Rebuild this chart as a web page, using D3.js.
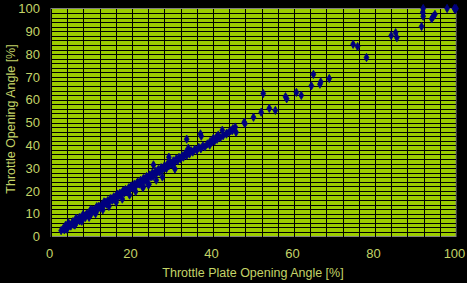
<!DOCTYPE html>
<html>
<head>
<meta charset="utf-8">
<script src="https://cdn.jsdelivr.net/npm/d3@7"></script>
<style>
  html, body { margin: 0; padding: 0; background: #000; }
  svg { display: block; }
  text { font-family: "Liberation Sans Narrow", "Arial Narrow", "Liberation Sans", sans-serif; fill: #c4d468; }
</style>
</head>
<body>
<div id="chart"></div>
<script>
// Throttle plate angle vs throttle opening angle
var plateAngle = [
  2.5, 3.0, 3.3, 3.8, 4.1, 4.5, 4.9, 5.2, 5.6, 6.0, 6.3, 6.7, 7.1, 7.4, 7.8, 8.2, 8.5, 8.9, 9.3, 9.6,
  10.0, 10.4, 10.7, 11.1, 11.5, 11.8, 12.2, 12.6, 12.9, 13.3, 13.7, 14.0, 14.4, 14.8, 15.1, 15.5, 15.9, 16.2, 16.6, 17.0,
  17.3, 17.7, 18.1, 18.4, 18.8, 19.2, 19.5, 19.9, 20.3, 20.6, 21.0, 21.4, 21.7, 22.1, 22.5, 22.8, 23.2, 23.6, 23.9, 24.3,
  24.7, 25.0, 25.4, 25.8, 26.1, 26.5, 26.9, 27.2, 27.6, 28.0, 28.3, 28.7, 29.1, 29.4, 29.8, 30.2, 30.5, 30.9, 31.3, 31.6,
  32.0, 32.4, 32.7, 33.1, 33.5, 33.8, 34.2, 34.6, 35.0, 35.5, 36.0, 36.5, 37.0, 37.5, 38.0, 38.6, 39.2, 39.8, 40.4, 41.0,
  41.8, 42.5, 43.3, 44.0, 44.8,
  3.6, 5.4, 7.0, 8.7, 10.2, 11.9, 13.5, 15.3, 16.8, 18.6, 20.1, 21.9, 23.4, 25.2, 26.7, 28.5, 30.0,
  4.3, 6.2, 7.9, 9.8, 11.3, 13.1, 14.6, 16.4, 18.0, 19.7, 21.2, 23.0, 24.5, 26.2, 27.9, 29.6,
  3.9, 5.9, 7.6, 9.4, 11.0, 12.8, 14.3, 16.1, 17.6, 19.4, 20.9, 22.7, 24.2, 26.0, 27.5,
  22.8, 24.0, 25.3, 29.1, 30.6, 33.3, 33.9, 33.5, 36.9, 37.1, 39.3, 40.1, 40.9, 41.3, 42.3, 43.4, 44.4, 44.9,
  45.5, 45.7, 47.7, 47.9, 50.0, 51.9, 52.4, 53.9, 55.4, 57.9, 58.2, 60.6, 61.8, 64.3, 64.8, 66.4, 66.6, 68.7,
  74.6, 75.7, 77.9, 84.0, 85.1, 85.4, 91.5, 91.8, 91.9, 91.9, 94.0, 94.4, 94.8, 97.8, 99.6, 100.0, 99.8
];
var openingAngle = [
  2.6, 3.4, 2.9, 4.1, 3.7, 5.0, 4.6, 5.8, 5.3, 6.6, 6.1, 7.4, 6.9, 8.2, 7.6, 9.0, 8.4, 9.9, 9.2, 10.7,
  10.1, 11.5, 10.9, 12.3, 11.8, 13.2, 12.6, 14.0, 13.4, 14.9, 14.2, 15.7, 15.1, 16.6, 15.9, 17.4, 16.8, 18.2, 17.5, 19.0,
  18.3, 19.8, 19.1, 20.6, 20.0, 21.4, 20.7, 22.2, 21.6, 23.0, 22.3, 23.9, 23.1, 24.6, 23.9, 25.4, 24.7, 26.3, 25.5, 27.0,
  26.2, 27.8, 27.1, 28.6, 27.9, 29.4, 28.6, 30.2, 29.5, 31.0, 30.3, 31.7, 31.0, 32.5, 31.8, 33.2, 32.5, 34.0, 33.3, 34.7,
  34.0, 35.4, 34.8, 36.1, 35.5, 36.9, 36.2, 37.6, 37.0, 38.3, 37.8, 39.1, 38.5, 39.8, 39.3, 40.6, 40.1, 41.5, 41.9, 42.6,
  43.3, 44.2, 44.9, 45.8, 46.5,
  4.9, 6.5, 8.3, 9.6, 11.6, 13.0, 14.9, 16.3, 18.2, 19.6, 21.6, 23.0, 25.0, 26.4, 28.4, 29.8, 31.7,
  6.0, 8.0, 9.6, 11.8, 13.1, 15.2, 16.5, 18.6, 20.0, 21.9, 23.3, 25.3, 26.6, 28.5, 30.1, 32.0,
  3.2, 5.0, 6.7, 8.4, 10.0, 11.7, 13.2, 15.0, 16.4, 18.2, 19.7, 21.4, 22.9, 24.7, 26.1,
  21.9, 22.7, 31.4, 34.8, 29.6, 36.8, 38.7, 42.7, 45.0, 44.0, 41.7, 43.1, 43.8, 44.5, 46.6, 45.3, 46.4, 47.3,
  48.0, 45.7, 50.1, 49.5, 52.3, 54.5, 62.7, 56.2, 55.3, 61.3, 60.4, 63.2, 61.9, 66.1, 71.1, 66.8, 67.8, 69.3,
  84.3, 83.3, 78.5, 88.1, 89.4, 87.2, 92.1, 98.4, 96.6, 100.0, 95.5, 96.5, 97.4, 100.0, 100.0, 100.0, 99.6
];
var xTicks = [0, 20, 40, 60, 80, 100];
var yTicks = [0, 10, 20, 30, 40, 50, 60, 70, 80, 90, 100];
var xTitle = "Throttle Plate Opening Angle [%]";
var yTitle = "Throttle Opening Angle [%]";

var W = 467, H = 283;
var plot = { left: 51, top: 8.5, right: 456, bottom: 236.5 };

var svg = d3.select("#chart").append("svg")
    .attr("width", W)
    .attr("height", H);

svg.append("rect")
    .attr("width", W).attr("height", H)
    .attr("fill", "#000");

var x = d3.scaleLinear().domain([0, 100]).range([plot.left, plot.right]);
var y = d3.scaleLinear().domain([0, 100]).range([plot.bottom, plot.top]);

// plot area
svg.append("rect")
    .attr("x", plot.left).attr("y", plot.top)
    .attr("width", plot.right - plot.left)
    .attr("height", plot.bottom - plot.top)
    .attr("fill", "#9ccc00")
    .attr("stroke", "#808080");

// grid lines: every 2 on y, every 4 on x
var grid = svg.append("g").attr("stroke", "#000").attr("stroke-width", 1).attr("shape-rendering", "crispEdges");
grid.selectAll(".hg").data(d3.range(2, 100, 2)).enter().append("line")
    .attr("x1", plot.left).attr("x2", plot.right)
    .attr("y1", d => Math.round(y(d)) + 0.5).attr("y2", d => Math.round(y(d)) + 0.5);
grid.selectAll(".vg").data(d3.range(4, 100, 4)).enter().append("line")
    .attr("y1", plot.top).attr("y2", plot.bottom)
    .attr("x1", d => Math.round(x(d)) + 0.5).attr("x2", d => Math.round(x(d)) + 0.5);

// axis lines
grid.append("line").attr("x1", plot.left + 0.5).attr("x2", plot.left + 0.5).attr("y1", plot.top).attr("y2", plot.bottom);
grid.append("line").attr("x1", plot.left).attr("x2", plot.right).attr("y1", Math.round(plot.bottom) + 0.5).attr("y2", Math.round(plot.bottom) + 0.5);

// tick labels
svg.append("g").selectAll("text").data(yTicks).enter().append("text")
    .attr("x", 40).attr("y", d => y(d))
    .attr("dy", "0.36em")
    .attr("text-anchor", "end")
    .style("font-size", "13px")
    .text(d => d);

svg.append("g").selectAll("text").data(xTicks).enter().append("text")
    .attr("x", d => x(d) - 1.5).attr("y", 258)
    .attr("text-anchor", "middle")
    .style("font-size", "13px")
    .text(d => d);

// axis titles
svg.append("text")
    .attr("x", 253).attr("y", 277)
    .attr("text-anchor", "middle")
    .style("font-size", "12.5px")
    .text(xTitle);

svg.append("text")
    .attr("transform", "translate(15,119) rotate(-90)")
    .attr("text-anchor", "middle")
    .style("font-size", "12.5px")
    .text(yTitle);

// points
var pts = plateAngle.map((v, i) => ({ x: v, y: openingAngle[i] }));
var sym = d3.symbol().type(d3.symbolDiamond).size(20);
svg.append("g").selectAll("path").data(pts).enter().append("path")
    .attr("transform", d => `translate(${x(d.x)},${y(d.y)})`)
    .attr("d", sym)
    .attr("fill", "#000080")
    .attr("stroke", "#000080")
    .attr("stroke-width", 0.8);
</script>
</body>
</html>
